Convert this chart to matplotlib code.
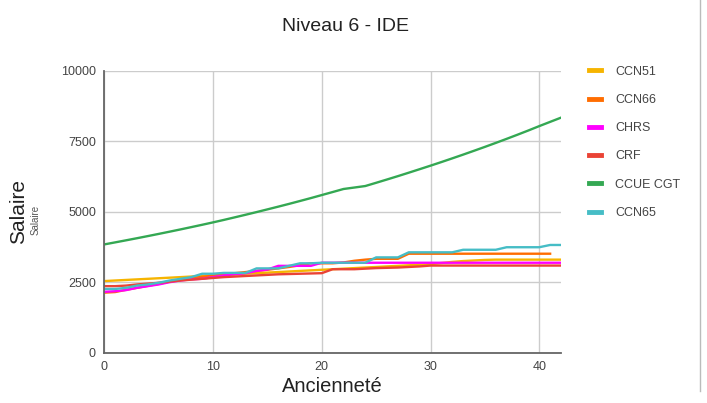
import numpy as np
import matplotlib
matplotlib.use('Agg')
import matplotlib.pyplot as plt
from matplotlib.lines import Line2D

years = list(range(43))

ccn51 = [2540, 2560, 2580, 2600, 2620, 2640, 2660, 2680, 2700, 2720,
         2740, 2760, 2780, 2800, 2820, 2840, 2860, 2880, 2900, 2920,
         2940, 2960, 2980, 3000, 3020, 3040, 3060, 3080, 3100, 3120,
         3140, 3180, 3220, 3250, 3270, 3290, 3300, 3300, 3300, 3300,
         3300, 3300, 3300]
ccn66 = [2130, 2150, 2230, 2300, 2370, 2440, 2520, 2580, 2640, 2690,
         2730, 2780, 2820, 2860, 2900, 2940, 2990, 3040, 3100, 3170,
         3170, 3170, 3200, 3260, 3300, 3330, 3330, 3330, 3510, 3510,
         3510, 3510, 3510, 3510, 3510, 3510, 3510, 3510, 3510, 3510,
         3510, 3510, np.nan]
chrs = [2160, 2180, 2220, 2300, 2360, 2420, 2500, 2560, 2600, 2620,
        2680, 2740, 2780, 2820, 2900, 2950, 3080, 3080, 3080, 3080,
        3190, 3190, 3190, 3190, 3190, 3190, 3190, 3190, 3190, 3190,
        3190, 3190, 3190, 3190, 3190, 3190, 3190, 3190, 3190, 3190,
        3190, 3190, 3190]
crf = [2360, 2360, 2380, 2420, 2450, 2480, 2520, 2560, 2590, 2620,
       2650, 2680, 2700, 2720, 2740, 2760, 2780, 2790, 2800, 2810,
       2820, 2960, 2960, 2960, 2980, 3000, 3010, 3020, 3040, 3060,
       3090, 3090, 3090, 3090, 3090, 3090, 3090, 3090, 3090, 3090,
       3090, 3090, 3090]
ccue_cgt = [3840, 3912, 3985, 4059, 4135, 4212, 4291, 4371, 4453, 4536,
            4621, 4709, 4800, 4892, 4986, 5082, 5179, 5278, 5380, 5483,
            5590, 5697, 5805, 5857, 5910, 6025, 6142, 6261, 6383, 6507,
            6632, 6760, 6891, 7024, 7160, 7298, 7439, 7583, 7730, 7880,
            8035, 8185, 8335]
ccn65 = [2260, 2260, 2300, 2380, 2420, 2480, 2560, 2620, 2680, 2800,
         2800, 2830, 2830, 2830, 2990, 2990, 2990, 3080, 3170, 3170,
         3190, 3190, 3190, 3190, 3190, 3380, 3380, 3380, 3560, 3560,
         3560, 3560, 3560, 3650, 3650, 3650, 3650, 3740, 3740, 3740,
         3740, 3820, 3820]

series = [('CCN51', ccn51, '#f6b400'),
          ('CCN66', ccn66, '#ff6d01'),
          ('CHRS', chrs, '#ff00ff'),
          ('CRF', crf, '#ea4335'),
          ('CCUE CGT', ccue_cgt, '#34a853'),
          ('CCN65', ccn65, '#46bdc6')]

plt.rcParams['font.family'] = ['Liberation Sans', 'DejaVu Sans']

fig = plt.figure(figsize=(7.07, 4.03), dpi=100)
ax = fig.add_axes([0.1475, 0.1248, 0.646, 0.6998])

for name, vals, col in series:
    ax.plot(years, vals, color=col, lw=1.7, label=name, solid_joinstyle='round')

ax.set_xlim(0, 42)
ax.set_ylim(0, 10000)
ax.set_xticks([0, 10, 20, 30, 40])
ax.set_yticks([0, 2500, 5000, 7500, 10000])
ax.grid(True, color='#cccccc', lw=1)
ax.set_axisbelow(True)
ax.tick_params(length=0, labelsize=9, colors='#444444', pad=6)
for s in ['top', 'right']:
    ax.spines[s].set_visible(False)
for s in ['left', 'bottom']:
    ax.spines[s].set_color('#666666')
    ax.spines[s].set_linewidth(1.3)

fig.text(0.488, 0.935, 'Niveau 6 - IDE', ha='center', va='center',
         fontsize=14, color='#222222')
fig.text(0.47, 0.04, 'Ancienneté', ha='center', va='center',
         fontsize=14.5, color='#222222')
fig.text(0.026, 0.475, 'Salaire', ha='center', va='center', rotation=90,
         fontsize=15, color='#222222')
fig.text(0.05, 0.455, 'Salaire', ha='center', va='center', rotation=90,
         fontsize=7, color='#555555')

leg = fig.legend(loc='upper left', bbox_to_anchor=(0.817, 0.865), frameon=False,
                 handlelength=1.0, handletextpad=1.1, labelspacing=1.3,
                 fontsize=9, labelcolor='#444444')
for ln in leg.get_lines():
    ln.set_linewidth(3.5)

fig.add_artist(Line2D([0.99, 0.99], [0.03, 1.0], color='#bbbbbb', lw=1))

fig.savefig('out.png', dpi=100)
